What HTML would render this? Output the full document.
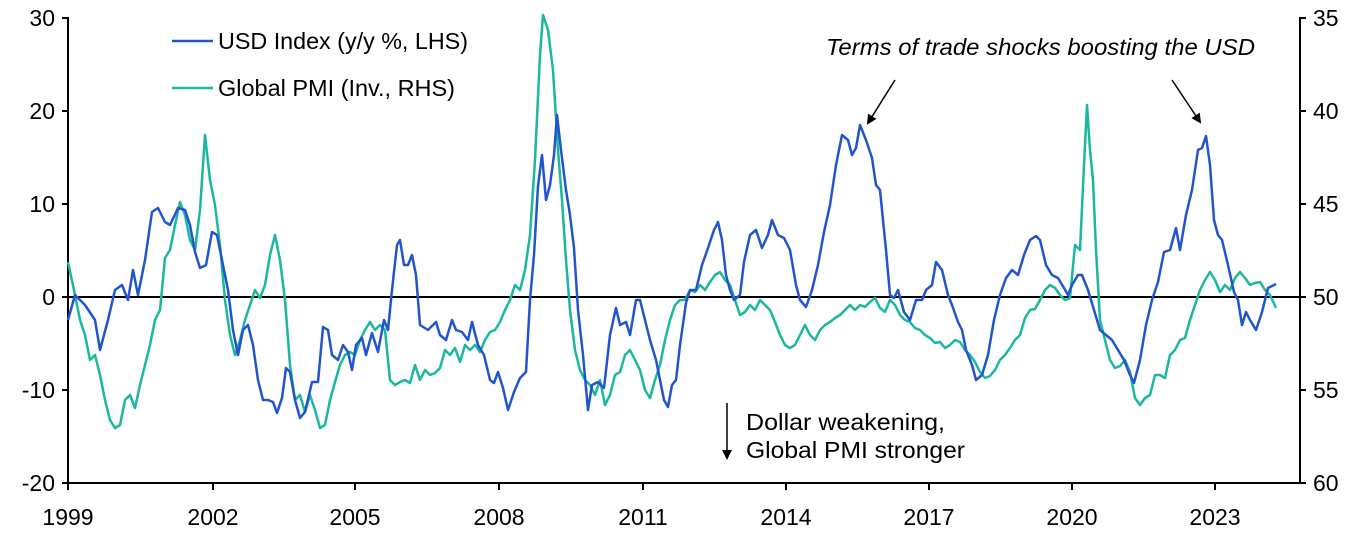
<!DOCTYPE html>
<html><head><meta charset="utf-8"><style>
body{margin:0;background:#fff;}
svg{display:block;font-family:"Liberation Sans",sans-serif;}
</style></head><body>
<svg width="1371" height="540" viewBox="0 0 1371 540" xmlns="http://www.w3.org/2000/svg">
<defs><marker id="ah" markerWidth="10" markerHeight="10" refX="8" refY="5" orient="auto" markerUnits="userSpaceOnUse"><path d="M0,0 L10,5 L0,10 z" fill="#000"/></marker></defs>
<g stroke="#000" stroke-width="2">
<line x1="68" y1="17" x2="68" y2="484"/>
<line x1="1300" y1="17" x2="1300" y2="484"/>
<line x1="68" y1="297" x2="1300" y2="297"/>
<line x1="67" y1="483" x2="1301" y2="483"/>
</g>
<g stroke="#000" stroke-width="2">
<line x1="62" y1="18" x2="68" y2="18"/><line x1="62" y1="111" x2="68" y2="111"/><line x1="62" y1="204" x2="68" y2="204"/><line x1="62" y1="297" x2="68" y2="297"/><line x1="62" y1="390" x2="68" y2="390"/><line x1="62" y1="483" x2="68" y2="483"/>
<line x1="1300" y1="18" x2="1306" y2="18"/><line x1="1300" y1="111" x2="1306" y2="111"/><line x1="1300" y1="204" x2="1306" y2="204"/><line x1="1300" y1="297" x2="1306" y2="297"/><line x1="1300" y1="390" x2="1306" y2="390"/><line x1="1300" y1="483" x2="1306" y2="483"/>
<line x1="68" y1="483" x2="68" y2="490"/><line x1="213" y1="483" x2="213" y2="490"/><line x1="355" y1="483" x2="355" y2="490"/><line x1="499" y1="483" x2="499" y2="490"/><line x1="643" y1="483" x2="643" y2="490"/><line x1="786" y1="483" x2="786" y2="490"/><line x1="929" y1="483" x2="929" y2="490"/><line x1="1072" y1="483" x2="1072" y2="490"/><line x1="1215" y1="483" x2="1215" y2="490"/>
</g>
<g font-size="23" fill="#000">
<g text-anchor="end"><text x="55" y="26">30</text><text x="55" y="119">20</text><text x="55" y="212">10</text><text x="55" y="305">0</text><text x="55" y="398">-10</text><text x="55" y="491">-20</text></g>
<g text-anchor="start"><text x="1313" y="26">35</text><text x="1313" y="119">40</text><text x="1313" y="212">45</text><text x="1313" y="305">50</text><text x="1313" y="398">55</text><text x="1313" y="491">60</text></g>
<g text-anchor="middle"><text x="68" y="525">1999</text><text x="213" y="525">2002</text><text x="355" y="525">2005</text><text x="499" y="525">2008</text><text x="643" y="525">2011</text><text x="786" y="525">2014</text><text x="929" y="525">2017</text><text x="1072" y="525">2020</text><text x="1215" y="525">2023</text></g>
</g>
<polyline fill="none" stroke="#1ab89e" stroke-width="2.5" stroke-linejoin="round" points="68,262 75,295 80,320 85,335 90,360 95,355 100,375 105,400 110,420 115,428 120,425 125,400 130,395 135,408 140,385 145,365 150,345 155,320 160,310 165,258 170,250 175,225 180,202 185,215 190,240 195,250 200,210 205,135 210,180 215,205 220,245 225,300 230,335 235,355 240,340 245,320 250,305 255,290 260,298 265,285 270,255 275,235 280,260 285,300 290,365 295,400 300,395 305,412 310,395 315,410 320,428 325,425 330,400 335,382 340,365 345,355 350,352 355,355 360,340 365,330 370,322 375,330 380,325 385,330 390,380 395,385 400,382 405,380 410,383 415,365 420,380 425,370 430,375 435,373 440,368 445,350 450,355 455,348 460,362 465,345 470,350 475,345 480,352 485,340 490,332 495,330 500,322 505,310 510,300 515,285 520,290 525,270 530,235 535,160 540,55 543,15 548,30 553,70 558,150 562,200 566,260 570,310 575,350 580,370 585,380 590,385 595,395 600,380 605,405 610,395 615,375 620,372 625,355 630,350 635,360 640,370 645,390 650,398 655,380 660,365 665,340 670,320 675,305 680,300 685,300 690,290 695,292 700,285 705,290 710,282 715,275 720,272 725,280 730,285 735,300 740,315 745,312 750,305 755,310 760,300 765,305 770,310 775,322 780,335 785,345 790,348 795,345 800,335 805,325 810,335 815,340 820,330 825,325 830,322 835,318 840,315 845,310 850,305 855,310 860,305 865,307 870,302 875,298 880,308 885,312 890,300 895,305 900,315 905,320 910,322 915,328 920,330 925,335 930,338 935,343 940,342 945,348 950,345 955,340 960,342 965,350 970,355 975,362 980,372 985,378 990,376 995,370 1000,360 1005,355 1010,348 1015,340 1020,335 1025,318 1030,310 1035,309 1040,300 1045,290 1050,285 1055,288 1060,295 1065,300 1070,298 1075,245 1080,250 1084,165 1087,105 1090,150 1093,180 1096,250 1100,320 1105,340 1110,360 1115,368 1120,366 1125,360 1130,372 1135,398 1140,405 1145,398 1150,395 1155,375 1160,375 1165,378 1170,355 1175,350 1180,340 1185,338 1190,320 1195,305 1200,290 1205,280 1210,272 1215,280 1220,292 1225,285 1230,290 1235,278 1240,272 1245,278 1250,285 1255,283 1260,282 1265,290 1270,295 1276,308"/>
<polyline fill="none" stroke="#2255cc" stroke-width="2.5" stroke-linejoin="round" points="68,320 75,295 85,305 95,320 100,350 108,320 115,290 122,285 128,300 133,270 138,295 145,260 152,212 158,208 165,222 170,225 178,208 185,210 190,225 195,252 200,268 206,265 212,232 217,235 222,260 228,290 233,330 238,355 243,330 248,325 253,345 258,380 263,400 268,400 273,402 277,413 282,398 286,368 290,372 295,400 300,418 305,412 312,382 318,382 323,327 328,330 332,355 338,360 343,345 348,352 352,370 356,345 362,338 366,355 372,333 378,352 384,320 388,330 392,290 397,245 400,240 404,265 408,265 412,255 416,275 420,325 428,330 436,322 440,335 446,340 452,320 456,330 462,332 468,340 472,322 478,345 484,355 490,380 494,383 498,372 503,388 508,410 514,392 520,378 526,372 530,300 534,255 538,186 542,155 546,200 550,185 554,155 557,115 561,150 566,190 570,215 574,248 578,310 583,355 588,410 592,385 598,382 604,388 610,335 616,308 620,325 626,322 630,335 636,300 640,300 645,320 650,340 656,360 660,380 664,400 668,407 672,385 676,380 680,345 686,303 690,290 696,290 702,265 708,248 714,230 718,222 722,240 726,275 730,290 734,300 740,295 744,262 750,235 756,230 762,248 768,235 772,220 778,235 784,238 790,250 796,285 800,300 806,307 812,290 818,265 824,232 830,205 836,165 842,135 848,140 852,155 856,148 860,125 866,140 872,158 876,185 880,190 886,250 890,295 894,298 898,290 904,312 910,320 916,300 922,300 926,290 932,285 936,262 942,270 948,295 952,305 958,322 962,330 966,350 972,365 976,380 982,375 988,355 994,320 1000,295 1006,278 1012,270 1018,275 1024,255 1030,240 1036,236 1040,240 1046,265 1052,275 1058,278 1064,288 1068,295 1072,285 1078,275 1082,275 1088,290 1094,310 1100,330 1106,335 1112,340 1118,350 1124,360 1130,375 1134,383 1140,360 1146,325 1152,300 1158,282 1164,252 1170,250 1176,228 1180,250 1186,215 1192,190 1198,150 1202,148 1206,136 1210,165 1214,220 1218,235 1222,240 1228,265 1234,292 1238,300 1242,325 1246,312 1250,320 1256,330 1262,312 1268,288 1276,284"/>
<line x1="172" y1="41" x2="213" y2="41" stroke="#2255cc" stroke-width="2.5"/>
<line x1="172" y1="88" x2="213" y2="88" stroke="#1ab89e" stroke-width="2.5"/>
<g font-size="23" fill="#000">
<text x="218" y="49" textLength="250" lengthAdjust="spacingAndGlyphs">USD Index (y/y %, LHS)</text>
<text x="218" y="96" textLength="237" lengthAdjust="spacingAndGlyphs">Global PMI (Inv., RHS)</text>
<text x="826" y="55" font-style="italic" textLength="429" lengthAdjust="spacingAndGlyphs">Terms of trade shocks boosting the USD</text>
<text x="746" y="430" textLength="199" lengthAdjust="spacingAndGlyphs">Dollar weakening,</text>
<text x="746" y="458" textLength="219" lengthAdjust="spacingAndGlyphs">Global PMI stronger</text>
</g>
<line x1="895" y1="80" x2="868" y2="123" stroke="#000" stroke-width="1.5" marker-end="url(#ah)"/>
<line x1="1172" y1="80" x2="1200" y2="122" stroke="#000" stroke-width="1.5" marker-end="url(#ah)"/>
<line x1="727" y1="403" x2="727" y2="458" stroke="#000" stroke-width="1.5" marker-end="url(#ah)"/>
</svg>
</body></html>
